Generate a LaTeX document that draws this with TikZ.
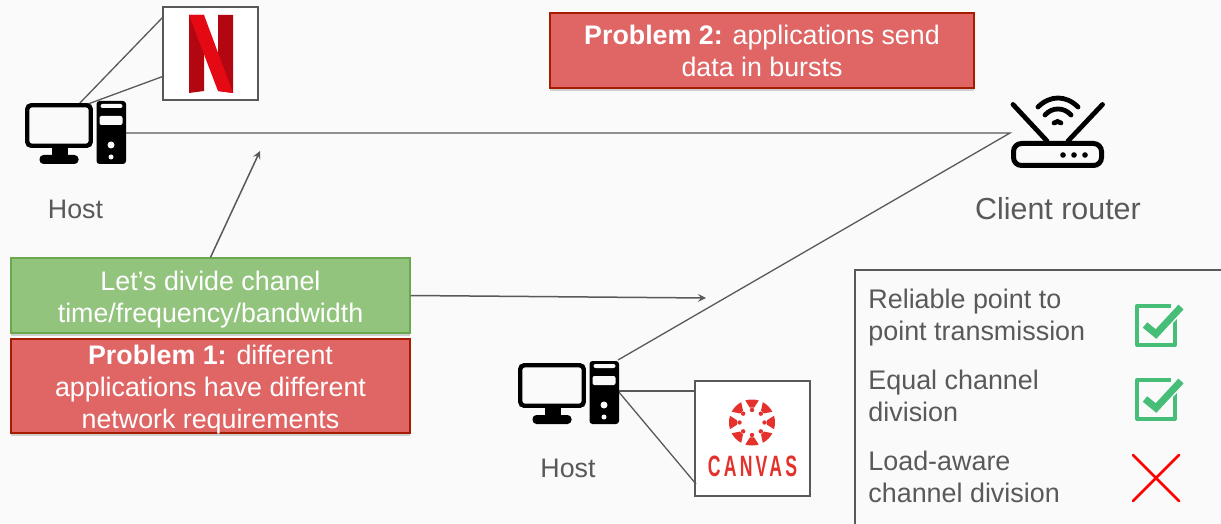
\documentclass[tikz,border=0pt]{standalone}
\usepackage{fontspec}
\setmainfont{Liberation Sans}
\newfontfamily\canvasfont[FakeStretch=0.6,LetterSpace=11]{Liberation Sans}
\usetikzlibrary{shadows}
\definecolor{bgcol}{HTML}{FAFAFA}
\definecolor{linecol}{HTML}{595959}
\definecolor{greenfill}{HTML}{93C47D}
\definecolor{greenedge}{HTML}{6AA84F}
\definecolor{redfill}{HTML}{E06666}
\definecolor{rededge}{HTML}{A61C00}
\definecolor{checkcol}{HTML}{46BE78}
\definecolor{canvascol}{HTML}{E4312B}
\definecolor{nflight}{HTML}{E50914}
\definecolor{nfdark}{HTML}{B20710}
\tikzset{
  wire/.style={draw=linecol,line width=0.65pt},
  msgbox/.style={draw,line width=0.7pt,inner sep=0pt,
    minimum width=199.5pt,minimum height=37.5pt,
    drop shadow={opacity=0.35,shadow xshift=0pt,shadow yshift=-1.5pt}},
  msgtext/.style={text=white,align=center,inner sep=0pt,font=\fontsize{13.4}{16}\selectfont},
  logobox/.style={draw=linecol,line width=0.6pt,fill=white,inner sep=0pt},
  plainlabel/.style={text=linecol,inner sep=0pt,font=\fontsize{13.4}{16}\selectfont},
  listlabel/.style={text=linecol,inner sep=0pt,align=left,anchor=west,font=\fontsize{13.45}{16}\selectfont},
  hostpic/.pic={
    \draw[black,line width=2.2pt,rounded corners=2pt,fill=bgcol](-48.25,-26.75)rectangle(15.25,13.75);
    \fill[black](-24,14)rectangle(-8,24);
    \fill[black,rounded corners=2pt](-36,23)rectangle(3,32);
    \fill[black,rounded corners=1.5pt](21,-31)rectangle(50.5,32);
    \fill[bgcol,rounded corners=1pt](25,-28)rectangle(47,-24);
    \fill[bgcol,rounded corners=1pt](24,-16)rectangle(47,-7);
    \fill[bgcol](35.5,13)circle(3.5);
    \fill[bgcol](35.5,25)circle(2.5);
  },
  checkpic/.pic={
    \draw[checkcol,line width=2pt,line join=round](36,2)--(2,2)--(2,41)--(40,41)--(40,14);
    \draw[bgcol,line width=5pt](10,21)--(21,30)--(46,3);
    \draw[checkcol,line width=3.5pt](10,21)--(21,30)--(46,3);
  },
}
\begin{document}
\begin{tikzpicture}[x=0.5pt,y=-0.5pt]
\useasboundingbox[fill=bgcol](0,0)rectangle(1221,524);
\coordinate(host1)at(75.5,132);
\coordinate(host2)at(568.5,392);
\coordinate(routerleft)at(1010,133);
\coordinate(hostright)at(126,133);
\coordinate(hosttop)at(618,360);
\coordinate(hostside)at(618,391);
\coordinate(lefttip)at(260,151);
\coordinate(righttip)at(706,298);
\coordinate(nfup)at(163,17);
\coordinate(nfdown)at(164,76);
\coordinate(nfhostup)at(78,105);
\coordinate(nfhostdown)at(88,104);
\coordinate(cvup)at(695,391);
\coordinate(cvdown)at(696,484);

\node[logobox,minimum width=47.5pt,minimum height=46.5pt](netflix)at(210.5,53.5){};
\node[logobox,minimum width=57.5pt,minimum height=57.5pt](canvas)at(752.5,438.5){};

\draw[wire](nfhostup)--(nfup);
\draw[wire](nfhostdown)--(nfdown);
\draw[wire](hostright)--(routerleft)--(hosttop);
\draw[wire](hostside)--(cvup);
\draw[wire](hostside)--(cvdown);

\pic at(host1){hostpic};
\pic at(host2){hostpic};

\fill[nfdark](189,15)--(204,15)--(204,91)--(189,93)--cycle;
\fill[nfdark](218,15)--(233,15)--(233,93)--(218,91)--cycle;
\fill[nflight](189,15)--(204,15)--(233,93)--(218,91)--cycle;

\begin{scope}[shift={(752,422.5)}]
\foreach \a in {0,45,...,315}{
  \fill[canvascol](\a-17:23)arc[start angle=\a-17,end angle=\a+17,radius=23]--(\a+8:15)arc[start angle=\a+8,end angle=\a-8,radius=15]--cycle;
  \fill[canvascol](\a:12.5)circle(2.2);
}
\end{scope}
\node[text=canvascol,inner sep=0pt,font=\canvasfont\bfseries\fontsize{14.7}{16}\selectfont](canvastext)at(752.5,466.5){CANVAS};

\node[plainlabel](hostlabel1)at(75.5,209){Host};
\node[plainlabel](hostlabel2)at(568,468){Host};
\node[text=linecol,inner sep=0pt,font=\fontsize{15.2}{18}\selectfont](routerlabel)at(1058,208.5){Client router};

\draw[black,line width=2.5pt,rounded corners=4pt](1013.5,143.5)rectangle(1101.5,165.5);
\draw[black,line width=2.4pt,line cap=round](1013,104.5)--(1047,141);
\draw[black,line width=2.4pt,line cap=round](1102.5,104.5)--(1068,141);
\foreach \x in {1063,1074,1085}{\fill[black](\x,155)circle(2.8);}
\draw[black,line width=2.4pt,line cap=round](1038,107).. controls (1050,95) and (1066,95) .. (1078,107);
\draw[black,line width=2.4pt,line cap=round](1045,115).. controls (1052,107) and (1064,107) .. (1071,115);
\draw[black,line width=2.4pt,line cap=round](1054,123).. controls (1056,121) and (1059,121) .. (1061,123);

\node[msgbox,draw=rededge,fill=redfill,minimum width=212pt](problem2)at(762,50.5){};
\node[msgtext](problem2text)at(762,50.5){\textbf{Problem 2:} applications send\\data in bursts};
\node[msgbox,draw=greenedge,fill=greenfill](divide)at(210.5,295.5){};
\node[msgtext](dividetext)at(210.5,299.5){Let’s divide chanel\\time/frequency/bandwidth};
\node[msgbox,draw=rededge,fill=redfill,minimum height=47pt](problem1)at(210.5,386){};
\node[msgtext](problem1text)at(210.5,390){\textbf{Problem 1:} different\\applications have different\\network requirements};

\draw[wire,line width=0.75pt,-stealth](divide.north)--(lefttip);
\draw[wire,line width=0.75pt,-stealth](divide.east)--(righttip);

\draw[wire](855,524)--(855,270)--(1221,270);
\node[listlabel](goal1)at(868,318){Reliable point to\\point transmission};
\node[listlabel](goal2)at(868,396){Equal channel\\division};
\node[listlabel](goal3)at(868,477){Load-aware\\channel division};
\pic at(1135,304){checkpic};
\pic at(1135,378){checkpic};
\draw[red,line width=1.4pt,line cap=round](1133,455)--(1179,501);
\draw[red,line width=1.4pt,line cap=round](1179,455)--(1133,501);
\end{tikzpicture}
\end{document}
